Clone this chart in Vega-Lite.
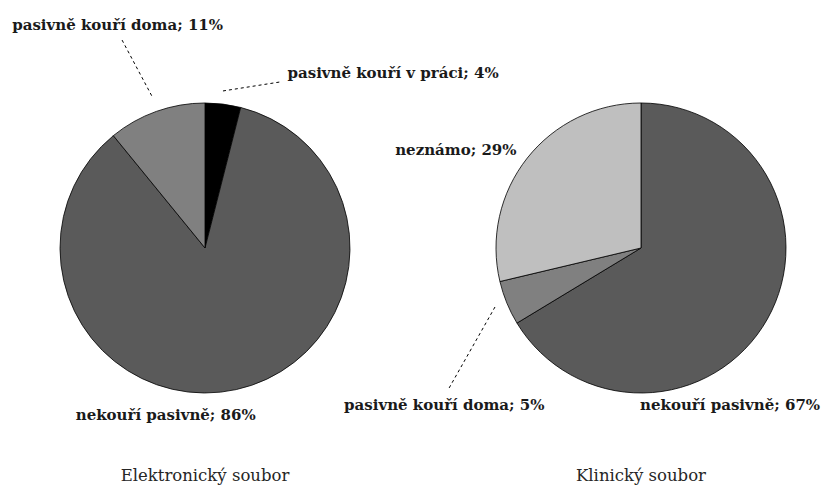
{
  "$schema": "https://vega.github.io/schema/vega-lite/v6.json",
  "padding": 0,
  "background": "white",
  "spacing": 48,
  "bounds": "flush",
  "config": {
    "view": {"stroke": null},
    "font": "DejaVu Serif",
    "title": {"font": "DejaVu Serif", "fontSize": 16.5, "fontWeight": "normal", "color": "#262626"},
    "text": {"font": "DejaVu Serif", "fontSize": 15, "fontWeight": "bold", "color": "#1a1a1a", "baseline": "middle"}
  },
  "datasets": {
    "elektronicky": [
      {"kategorie": "pasivně kouří v práci", "podil": 4, "popisek": "pasivně kouří v práci; 4%", "poradi": 1},
      {"kategorie": "nekouří pasivně", "podil": 86, "popisek": "nekouří pasivně; 86%", "poradi": 2},
      {"kategorie": "pasivně kouří doma", "podil": 11, "popisek": "pasivně kouří doma; 11%", "poradi": 3}
    ],
    "klinicky": [
      {"kategorie": "nekouří pasivně", "podil": 67, "popisek": "nekouří pasivně; 67%", "poradi": 1},
      {"kategorie": "pasivně kouří doma", "podil": 5, "popisek": "pasivně kouří doma; 5%", "poradi": 2},
      {"kategorie": "neznámo", "podil": 29, "popisek": "neznámo; 29%", "poradi": 3}
    ],
    "vodici_el": [
      {"x1": -0.572, "y1": 1.434, "x2": -0.359, "y2": 1.034},
      {"x1": 0.124, "y1": 1.083, "x2": 0.517, "y2": 1.145}
    ],
    "vodici_kl": [
      {"x1": -1.007, "y1": -0.407, "x2": -1.331, "y2": -0.979}
    ]
  },
  "hconcat": [
    {
      "width": 410,
      "height": 440,
      "title": {"text": "Elektronický soubor", "orient": "bottom", "offset": 28},
      "data": {"name": "elektronicky"},
      "layer": [
        {
          "mark": {"type": "arc", "outerRadius": 145, "stroke": "#000000", "strokeWidth": 0.8},
          "encoding": {
            "theta": {"field": "podil", "type": "quantitative", "stack": true},
            "order": {"field": "poradi", "type": "quantitative"},
            "x": {"datum": 0, "type": "quantitative", "scale": {"domain": [-1.41379, 1.41379], "nice": false, "zero": false}, "axis": null},
            "y": {"datum": 0, "type": "quantitative", "scale": {"domain": [-1.32414, 1.71034], "nice": false, "zero": false}, "axis": null},
            "color": {"field": "kategorie", "type": "nominal", "legend": null,
              "scale": {"domain": ["nekouří pasivně", "pasivně kouří doma", "pasivně kouří v práci", "neznámo"], "range": ["#5a5a5a", "#808080", "#000000", "#bfbfbf"]}}
          }
        },
        {
          "mark": {"type": "text", "radius": 165, "align": "left", "dx": 62, "dy": -11},
          "encoding": {
            "theta": {"field": "podil", "type": "quantitative", "stack": true},
            "order": {"field": "poradi", "type": "quantitative"},
            "x": {"datum": 0, "type": "quantitative"},
            "y": {"datum": 0, "type": "quantitative"},
            "detail": {"field": "kategorie"},
            "text": {"condition": {"test": "datum.kategorie === 'pasivně kouří v práci'", "field": "popisek"}, "value": ""}
          }
        },
        {
          "mark": {"type": "text", "radius": 165, "align": "center", "dx": -32, "dy": -68},
          "encoding": {
            "theta": {"field": "podil", "type": "quantitative", "stack": true},
            "order": {"field": "poradi", "type": "quantitative"},
            "x": {"datum": 0, "type": "quantitative"},
            "y": {"datum": 0, "type": "quantitative"},
            "detail": {"field": "kategorie"},
            "text": {"condition": {"test": "datum.kategorie === 'pasivně kouří doma'", "field": "popisek"}, "value": ""}
          }
        },
        {
          "mark": {"type": "text", "radius": 170, "align": "center", "dx": -76, "dy": 1},
          "encoding": {
            "theta": {"field": "podil", "type": "quantitative", "stack": true},
            "order": {"field": "poradi", "type": "quantitative"},
            "x": {"datum": 0, "type": "quantitative"},
            "y": {"datum": 0, "type": "quantitative"},
            "detail": {"field": "kategorie"},
            "text": {"condition": {"test": "datum.kategorie === 'nekouří pasivně'", "field": "popisek"}, "value": ""}
          }
        },
        {
          "data": {"name": "vodici_el"},
          "mark": {"type": "rule", "strokeDash": [3, 3], "color": "#000000", "strokeWidth": 1},
          "encoding": {
            "x": {"field": "x1", "type": "quantitative"},
            "y": {"field": "y1", "type": "quantitative"},
            "x2": {"field": "x2"},
            "y2": {"field": "y2"}
          }
        }
      ]
    },
    {
      "width": 366,
      "height": 440,
      "title": {"text": "Klinický soubor", "orient": "bottom", "offset": 28},
      "data": {"name": "klinicky"},
      "layer": [
        {
          "mark": {"type": "arc", "outerRadius": 145, "stroke": "#000000", "strokeWidth": 0.8},
          "encoding": {
            "theta": {"field": "podil", "type": "quantitative", "stack": true},
            "order": {"field": "poradi", "type": "quantitative"},
            "x": {"datum": 0, "type": "quantitative", "scale": {"domain": [-1.26207, 1.26207], "nice": false, "zero": false}, "axis": null},
            "y": {"datum": 0, "type": "quantitative", "scale": {"domain": [-1.32414, 1.71034], "nice": false, "zero": false}, "axis": null},
            "color": {"field": "kategorie", "type": "nominal", "legend": null,
              "scale": {"domain": ["nekouří pasivně", "pasivně kouří doma", "pasivně kouří v práci", "neznámo"], "range": ["#5a5a5a", "#808080", "#000000", "#bfbfbf"]}}
          }
        },
        {
          "mark": {"type": "text", "radius": 165, "align": "right", "dx": 5, "dy": 4},
          "encoding": {
            "theta": {"field": "podil", "type": "quantitative", "stack": true},
            "order": {"field": "poradi", "type": "quantitative"},
            "x": {"datum": 0, "type": "quantitative"},
            "y": {"datum": 0, "type": "quantitative"},
            "detail": {"field": "kategorie"},
            "text": {"condition": {"test": "datum.kategorie === 'neznámo'", "field": "popisek"}, "value": ""}
          }
        },
        {
          "mark": {"type": "text", "radius": 165, "align": "center", "dx": -44, "dy": 94},
          "encoding": {
            "theta": {"field": "podil", "type": "quantitative", "stack": true},
            "order": {"field": "poradi", "type": "quantitative"},
            "x": {"datum": 0, "type": "quantitative"},
            "y": {"datum": 0, "type": "quantitative"},
            "detail": {"field": "kategorie"},
            "text": {"condition": {"test": "datum.kategorie === 'pasivně kouří doma'", "field": "popisek"}, "value": ""}
          }
        },
        {
          "mark": {"type": "text", "radius": 170, "align": "center", "dx": -59, "dy": 74},
          "encoding": {
            "theta": {"field": "podil", "type": "quantitative", "stack": true},
            "order": {"field": "poradi", "type": "quantitative"},
            "x": {"datum": 0, "type": "quantitative"},
            "y": {"datum": 0, "type": "quantitative"},
            "detail": {"field": "kategorie"},
            "text": {"condition": {"test": "datum.kategorie === 'nekouří pasivně'", "field": "popisek"}, "value": ""}
          }
        },
        {
          "data": {"name": "vodici_kl"},
          "mark": {"type": "rule", "strokeDash": [3, 3], "color": "#000000", "strokeWidth": 1},
          "encoding": {
            "x": {"field": "x1", "type": "quantitative"},
            "y": {"field": "y1", "type": "quantitative"},
            "x2": {"field": "x2"},
            "y2": {"field": "y2"}
          }
        }
      ]
    }
  ]
}
